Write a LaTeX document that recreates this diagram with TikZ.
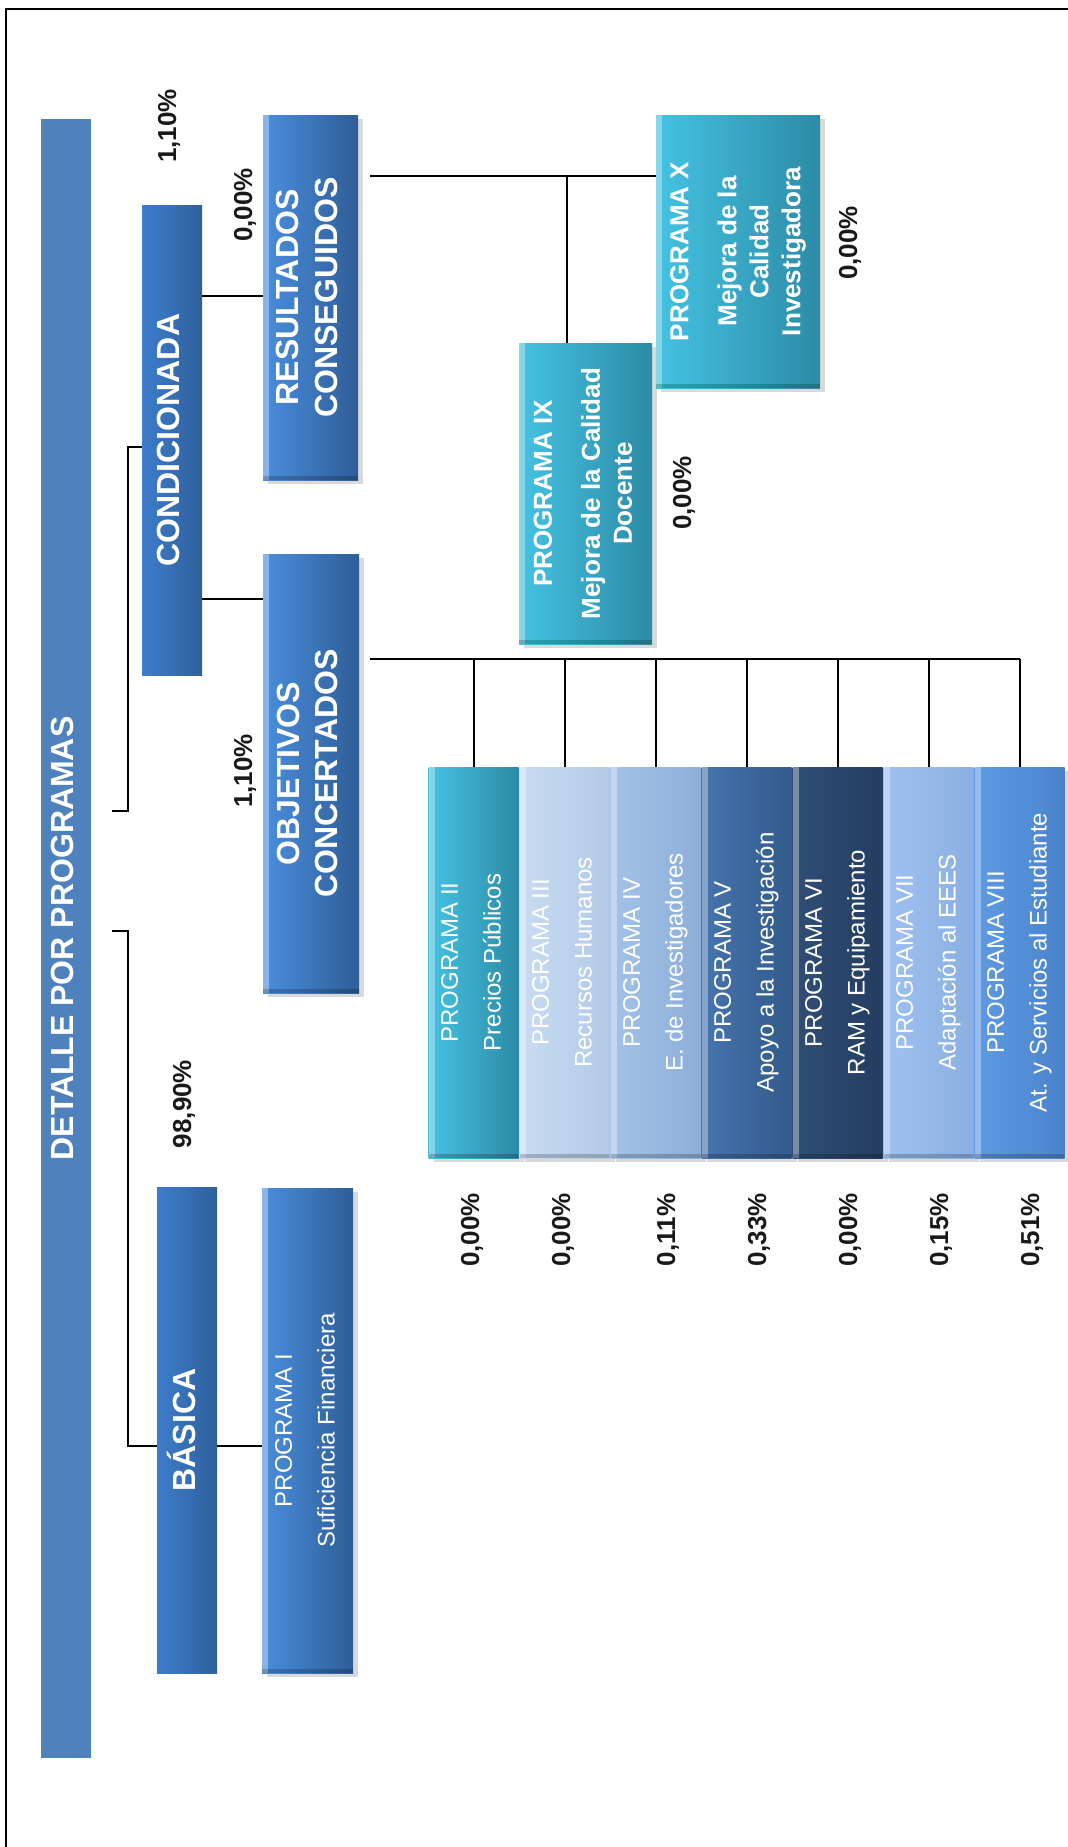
\documentclass[tikz,border=0pt]{standalone}
\usepackage{fontspec}
\setmainfont{Liberation Sans}
\usepackage{graphicx}
\usetikzlibrary{calc,shadows}

\definecolor{detblue}{HTML}{4F81BD}
\definecolor{tierL}{HTML}{3D7DCC}
\definecolor{tierR}{HTML}{2F5F9B}
\definecolor{grpL}{HTML}{4A8EDD}
\definecolor{grpR}{HTML}{2F5D97}
\definecolor{tealL}{HTML}{45C2E2}
\definecolor{tealR}{HTML}{2C8BA6}
\definecolor{rhL}{HTML}{C8DBF2}
\definecolor{rhR}{HTML}{B3CAE6}
\definecolor{eiL}{HTML}{A3C2E8}
\definecolor{eiR}{HTML}{8DAED9}
\definecolor{aiL}{HTML}{4674AD}
\definecolor{aiR}{HTML}{335B8C}
\definecolor{ramL}{HTML}{304E77}
\definecolor{ramR}{HTML}{243D60}
\definecolor{eeesL}{HTML}{9EC1F1}
\definecolor{eeesR}{HTML}{8BAFE0}
\definecolor{estL}{HTML}{5E9AE3}
\definecolor{estR}{HTML}{4A83CB}

\newcommand{\turned}[1]{\rotatebox{90}{\begin{tabular}{@{}c@{}}#1\end{tabular}}}

\begin{document}
\begin{tikzpicture}[x=0.5pt, y=-0.5pt,
  conn/.style={line width=1pt},
  titlebar/.style={fill=detblue, text=white, inner sep=0pt,
    font=\bfseries\fontsize{16}{19.2}\selectfont},
  tier/.style={left color=tierL, right color=tierR, text=white, inner sep=0pt,
    font=\bfseries\fontsize{16}{19.2}\selectfont},
  raised/.style={drop shadow={opacity=.3, shadow xshift=2.5pt, shadow yshift=-2pt},
    path picture={
      \fill[white, opacity=.35] (path picture bounding box.north west)
        rectangle ([xshift=3pt]path picture bounding box.south west);
      \fill[black, opacity=.2] (path picture bounding box.south west)
        rectangle ([yshift=2pt]path picture bounding box.south east);}},
  group/.style={raised, left color=grpL, right color=grpR, text=white,
    inner sep=0pt, font=\bfseries\fontsize{16}{19.2}\selectfont},
  prog/.style 2 args={raised, left color=#1, right color=#2, text=white,
    inner sep=0pt, font=\fontsize{12}{14.4}\selectfont},
  progbold/.style 2 args={raised, left color=#1, right color=#2, text=white,
    inner sep=0pt, font=\bfseries\fontsize{13}{16}\selectfont},
  pct/.style={rotate=90, inner sep=0pt, text=black!90,
    font=\bfseries\fontsize{13}{15.6}\selectfont}]

  \useasboundingbox (0,0) rectangle (1068,1847);
  \draw[line width=1pt] (6,1847) -- (6,9) -- (1068,9);

  \node[titlebar, minimum width=25pt, minimum height=819.5pt] (det) at (66,938.5)
    {\turned{DETALLE POR PROGRAMAS}};

  \node[tier, minimum width=30pt, minimum height=235pt] (cond) at (172,440)
    {\turned{CONDICIONADA}};
  \node[tier, minimum width=30pt, minimum height=243pt] (bas) at (187,1430)
    {\turned{BÁSICA}};

  \node[group, minimum width=47.5pt, minimum height=182.5pt] (res) at (310.5,297.5)
    {\turned{RESULTADOS\\CONSEGUIDOS}};
  \node[group, minimum width=48pt, minimum height=219.5pt] (obj) at (311,773.5)
    {\turned{OBJETIVOS\\CONCERTADOS}};
  \node[prog={grpL}{grpR}, minimum width=45.5pt, minimum height=242.5pt] (p1) at (307.5,1430.5)
    {\turned{PROGRAMA I\\[7pt]Suficiencia Financiera}};

  \node[prog={tealL}{tealR}, minimum width=45pt, minimum height=195.5pt] (p2) at (473.5,962.5)
    {\turned{PROGRAMA II\\[7pt]Precios Públicos}};
  \node[prog={rhL}{rhR}, minimum width=45pt, minimum height=195.5pt] (p3) at (564.5,962.5)
    {\turned{PROGRAMA III\\[7pt]Recursos Humanos}};
  \node[prog={eiL}{eiR}, minimum width=45pt, minimum height=195.5pt] (p4) at (655.5,962.5)
    {\turned{PROGRAMA IV\\[7pt]E. de Investigadores}};
  \node[prog={aiL}{aiR}, minimum width=45pt, minimum height=195.5pt] (p5) at (746.5,962.5)
    {\turned{PROGRAMA V\\[7pt]Apoyo a la Investigación}};
  \node[prog={ramL}{ramR}, minimum width=45pt, minimum height=195.5pt] (p6) at (837.5,962.5)
    {\turned{PROGRAMA VI\\[7pt]RAM y Equipamiento}};
  \node[prog={eeesL}{eeesR}, minimum width=45pt, minimum height=195.5pt] (p7) at (928.5,962.5)
    {\turned{PROGRAMA VII\\[7pt]Adaptación al EEES}};
  \node[prog={estL}{estR}, minimum width=45pt, minimum height=195.5pt] (p8) at (1019.5,962.5)
    {\turned{PROGRAMA VIII\\[7pt]At. y Servicios al Estudiante}};

  \node[progbold={tealL}{tealR}, minimum width=66.5pt, minimum height=150.5pt] (p9) at (585.5,493.5)
    {\turned{PROGRAMA IX\\[8pt]Mejora de la Calidad\\Docente}};
  \node[progbold={tealL}{tealR}, minimum width=82pt, minimum height=136.5pt] (p10) at (738,251.5)
    {\turned{PROGRAMA X\\[8pt]Mejora de la\\Calidad\\Investigadora}};

  \node[pct] (pccond) at (169,126) {1,10\%};
  \node[pct] (pcres) at (245,205) {0,00\%};
  \node[pct] (pcobj) at (245,771) {1,10\%};
  \node[pct] (pcbas) at (184,1104) {98,90\%};
  \node[pct] (pc9) at (684,493) {0,00\%};
  \node[pct] (pc10) at (850,243) {0,00\%};
  \node[pct] (pc2) at (472,1230) {0,00\%};
  \node[pct] (pc3) at (563,1230) {0,00\%};
  \node[pct] (pc4) at (668,1230) {0,11\%};
  \node[pct] (pc5) at (759,1230) {0,33\%};
  \node[pct] (pc6) at (850,1230) {0,00\%};
  \node[pct] (pc7) at (941,1230) {0,15\%};
  \node[pct] (pc8) at (1032,1230) {0,51\%};

  \coordinate (detup) at (112,811);
  \coordinate (detdn) at (112,931);
  \coordinate (resjoin) at (566.5,176);

  \draw[conn] (detup) -| (128,447) -- (cond.west |- 0,447);
  \draw[conn] (detdn) -| (128,1446) -- (bas.west |- 0,1446);
  \draw[conn] (bas.east |- 0,1446) -- (p1.west |- 0,1446);
  \draw[conn] (cond.east |- 0,296) -- (res.west |- 0,296);
  \draw[conn] (cond.east |- 0,599) -- (obj.west |- 0,599);
  \draw[conn] ($(res.east |- 0,176)+(12,0)$) -- (p10.west |- 0,176);
  \draw[conn] (resjoin) -- (p9.north -| resjoin);
  \draw[conn] ($(obj.east |- 0,659)+(11,0)$) -- (p8.north |- 0,659);
  \draw[conn] (p2.north |- 0,659) -- (p2.north);
  \draw[conn] (p3.north |- 0,659) -- (p3.north);
  \draw[conn] (p4.north |- 0,659) -- (p4.north);
  \draw[conn] (p5.north |- 0,659) -- (p5.north);
  \draw[conn] (p6.north |- 0,659) -- (p6.north);
  \draw[conn] (p7.north |- 0,659) -- (p7.north);
  \draw[conn] (p8.north |- 0,659) -- (p8.north);
\end{tikzpicture}
\end{document}
